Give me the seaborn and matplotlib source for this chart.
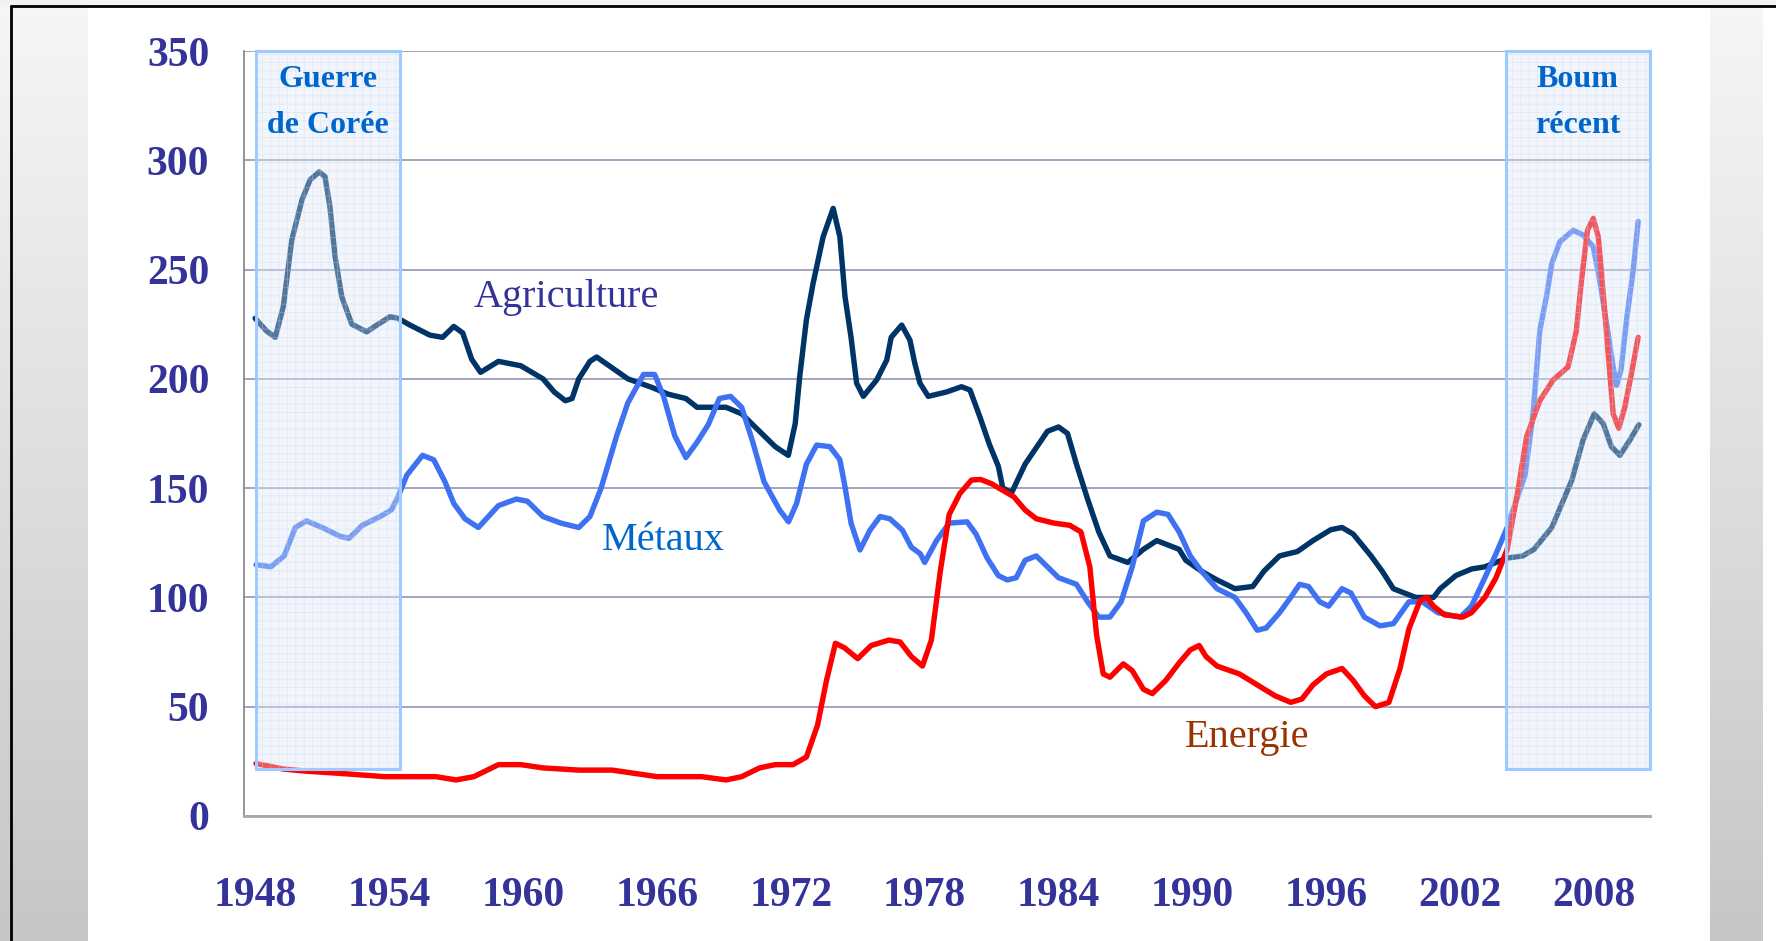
import matplotlib

matplotlib.use("Agg")

import matplotlib.pyplot as plt
import numpy as np
import pandas as pd
import seaborn as sns
from matplotlib.lines import Line2D
from matplotlib.patches import Rectangle

# --- data (index, year = decimal position on the axis) ---
agri_year = [
    1948.5, 1949.0, 1949.4, 1949.76, 1950.14, 1950.6, 1950.96, 1951.37, 1951.63, 1951.85,
    1952.08, 1952.38, 1952.83, 1953.5, 1953.95, 1954.54, 1954.9, 1955.44, 1956.33, 1956.9,
    1957.4, 1957.8, 1958.2, 1958.6, 1959.4, 1960.4, 1961.4, 1961.9, 1962.4, 1962.7,
    1963.0, 1963.5, 1963.8, 1964.5, 1965.2, 1966.3, 1967.0, 1967.8, 1968.3, 1969.6,
    1970.3, 1971.1, 1971.8, 1972.39, 1972.7, 1972.9, 1973.2, 1973.5, 1973.95, 1974.4,
    1974.7, 1974.93, 1975.2, 1975.45, 1975.75, 1976.35, 1976.8, 1977.0, 1977.47, 1977.84,
    1978.06, 1978.29, 1978.66, 1979.48, 1980.15, 1980.53, 1980.97, 1981.4, 1981.8, 1982.0,
    1982.4, 1983.0, 1984.0, 1984.5, 1984.9, 1985.3, 1985.8, 1986.3, 1986.8, 1987.6,
    1988.3, 1988.9, 1989.9, 1990.2, 1990.9, 1991.6, 1992.4, 1993.2, 1993.7, 1994.4,
    1995.2, 1995.9, 1996.7, 1997.2, 1997.7, 1998.5, 1999.0, 1999.5, 2000.5, 2001.3,
    2001.6, 2002.3, 2003.0, 2003.6, 2004.6, 2005.3, 2005.8, 2006.6, 2007.5, 2008.0,
    2008.5, 2008.9, 2009.27, 2009.65, 2010.1, 2010.5,
]
agri_val = [
    227.7, 222, 219, 233, 263.5, 282, 291, 294.7, 292.5, 278.7,
    256, 237.6, 225, 221.5, 224.6, 228.4, 227.7, 224.6, 220, 219,
    224, 221, 209, 203, 208, 206, 200, 194, 190, 191,
    200, 208, 210, 205, 200, 196, 193, 191, 187, 187,
    184, 176, 169, 165, 179.6, 201, 227, 243.7, 265, 278,
    265, 237.6, 219, 198, 192, 199.5, 208.6, 219, 224.6, 217.7,
    207, 198, 192, 194, 196.4, 194.9, 182.7, 170, 160, 150,
    148, 161, 176, 178, 175, 161, 145, 130, 119, 116,
    122, 126, 122, 117, 112, 108, 104, 105, 112, 119,
    121, 126, 131, 132, 129, 119, 112, 104, 100, 100,
    104, 110, 113, 114, 118, 119, 122, 132, 153.7, 172,
    184, 179.6, 169, 165, 172, 179,
]

metal_year = [
    1948.54, 1949.2, 1949.8, 1950.3, 1950.8, 1951.5, 1952.3, 1952.7, 1953.3, 1954.1,
    1954.6, 1954.9, 1955.3, 1956.0, 1956.5, 1957.0, 1957.4, 1957.9, 1958.5, 1959.4,
    1960.2, 1960.7, 1961.4, 1962.2, 1963.0, 1963.5, 1964.0, 1964.7, 1965.2, 1965.9,
    1966.4, 1966.8, 1967.3, 1967.8, 1968.3, 1968.8, 1969.3, 1969.8, 1970.3, 1970.8,
    1971.3, 1972.0, 1972.4, 1972.76, 1973.2, 1973.66, 1974.25, 1974.7, 1974.93, 1975.2,
    1975.6, 1976.05, 1976.5, 1976.94, 1977.5, 1977.9, 1978.3, 1978.5, 1979.03, 1979.6,
    1980.4, 1980.8, 1981.3, 1981.8, 1982.2, 1982.6, 1983.0, 1983.5, 1984.0, 1984.5,
    1985.3, 1985.8, 1986.3, 1986.8, 1987.3, 1987.8, 1988.3, 1988.9, 1989.4, 1989.9,
    1990.4, 1990.9, 1991.6, 1992.4, 1992.9, 1993.4, 1993.8, 1994.4, 1994.9, 1995.3,
    1995.7, 1996.2, 1996.6, 1997.2, 1997.6, 1998.2, 1998.9, 1999.5, 2000.2, 2000.8,
    2001.5, 2002.5, 2003.0, 2003.6, 2004.1, 2004.6, 2005.1, 2005.4, 2005.76, 2006.06,
    2006.36, 2006.6, 2006.96, 2007.56, 2008.0, 2008.46, 2008.75, 2009.05, 2009.35, 2009.5,
    2009.7, 2009.95, 2010.25, 2010.47,
]
metal_val = [
    115, 114, 119, 132, 135, 132, 128, 127, 133, 137,
    140, 146, 156, 165, 163, 153, 143, 136, 132, 142,
    145, 144, 137, 134, 132, 137, 150, 174, 189, 202,
    202, 192, 174, 164, 171, 179, 191, 192, 187, 171,
    153, 140, 134.6, 143, 161, 169.7, 169, 163, 150.6, 134,
    121.7, 130.8, 137, 136, 130.8, 123, 120, 116, 126, 134,
    134.6, 129, 118, 110, 108, 109, 117, 119, 114, 109,
    106, 98, 91, 91, 98, 114, 135, 139, 138, 130,
    119, 112, 104, 100, 93, 85, 86, 93, 100, 106,
    105, 98, 96, 104, 102, 91, 87, 88, 98, 98,
    93, 91, 96, 109, 120, 132, 147, 156, 184, 222,
    237.6, 252.8, 262.7, 268, 265.8, 260.4, 245, 225.5, 205.5, 197,
    204, 227, 250, 272,
]

energy_year = [
    1948.54, 1949.75, 1950.8, 1952.3, 1954.3, 1956.6, 1957.5, 1958.3, 1958.9, 1959.4,
    1960.4, 1961.4, 1963.0, 1964.5, 1965.5, 1966.5, 1968.5, 1969.6, 1970.3, 1971.1,
    1971.8, 1972.6, 1973.2, 1973.7, 1974.1, 1974.5, 1974.9, 1975.5, 1976.1, 1976.9,
    1977.4, 1977.9, 1978.4, 1978.8, 1979.2, 1979.6, 1980.08, 1980.6, 1981.0, 1981.5,
    1982.0, 1982.5, 1983.0, 1983.5, 1984.3, 1985.0, 1985.5, 1985.9, 1986.2, 1986.5,
    1986.8, 1987.4, 1987.8, 1988.3, 1988.7, 1989.3, 1989.9, 1990.4, 1990.8, 1991.1,
    1991.6, 1992.6, 1993.4, 1994.2, 1994.9, 1995.4, 1995.9, 1996.5, 1997.2, 1997.7,
    1998.2, 1998.7, 1999.3, 1999.8, 2000.2, 2000.7, 2001.0, 2001.3, 2001.8, 2002.6,
    2003.0, 2003.6, 2004.1, 2004.6, 2005.1, 2005.47, 2006.06, 2006.66, 2007.33, 2007.7,
    2007.93, 2008.2, 2008.46, 2008.68, 2008.83, 2009.1, 2009.35, 2009.6, 2009.87, 2010.17,
    2010.47,
]
energy_val = [
    24, 21.5, 20.5, 19.5, 18, 18, 16.5, 18, 21, 23.5,
    23.5, 22, 21, 21, 19.5, 18, 18, 16.5, 18, 22,
    23.5, 23.5, 27, 41.6, 62, 79, 77, 72, 78, 80.5,
    79.6, 73, 68.6, 80.5, 112, 138, 147.6, 153.7, 154, 152,
    149, 146, 140, 136, 134, 133, 130, 114, 83, 65,
    63.5, 69.6, 66.5, 58, 56, 62, 70, 76, 78, 73,
    68.6, 65, 60, 55, 52, 53.5, 60, 65, 67.5, 62,
    55, 50, 52, 67.5, 85.7, 98.6, 100, 96, 92, 91,
    93, 100, 109, 122, 150, 173.5, 190, 199.5, 205.5, 222,
    245, 268, 273.4, 265, 248, 214.7, 184, 177.4, 187, 202.5,
    219,
]

year_labels = list(range(1948, 2009, 6))
y_ticks = list(range(0, 351, 50))
bands = [(1948.52, 1955.0, ["Guerre", "de Corée"]), (2004.53, 2011.0, ["Boum", "récent"])]
band_bottom = 21.5

series_colors = {"Agriculture": "#003366", "Métaux": "#3F72F2", "Energie": "#FF0000"}

df = pd.concat([
    pd.DataFrame({"annee": agri_year, "indice": agri_val, "serie": "Agriculture"}),
    pd.DataFrame({"annee": metal_year, "indice": metal_val, "serie": "Métaux"}),
    pd.DataFrame({"annee": energy_year, "indice": energy_val, "serie": "Energie"}),
])

sns.set_style("white")
plt.rcParams["font.family"] = ["Liberation Serif", "DejaVu Serif"]
plt.rcParams["hatch.linewidth"] = 0.6

W, H = 1776, 941
fig = plt.figure(figsize=(W / 100, H / 100), dpi=100)
fig.patch.set_facecolor("white")

# slide background strips
grad = np.linspace(0, 1, 256).reshape(-1, 1)
for x0, w in [(0, 87), (1710, 53)]:
    bg = fig.add_axes([x0 / W, 0, w / W, 1])
    bg.imshow(grad, aspect="auto", cmap=matplotlib.colors.LinearSegmentedColormap.from_list(
        "g", ["#F6F6F6", "#C6C6C6"]), extent=[0, 1, 0, 1], origin="upper")
    bg.axis("off")
fig.add_artist(Rectangle((0, 1 - 6 / H), 1, 6 / H, transform=fig.transFigure,
                         facecolor="#F2F2F2", edgecolor="none"))
fig.add_artist(Line2D([11 / W, 11 / W], [0, 1 - 6 / H], transform=fig.transFigure,
                      color="black", lw=2))
fig.add_artist(Line2D([11 / W, 1], [1 - 6 / H, 1 - 6 / H], transform=fig.transFigure,
                      color="black", lw=2))

ax = fig.add_axes([244 / W, 1 - 816 / H, (1650 - 244) / W, (816 - 51) / H])
ax.set_facecolor("white")

sns.lineplot(data=df, x="annee", y="indice", hue="serie", palette=series_colors,
             sort=False, estimator=None, lw=3.9, legend=False, ax=ax, zorder=3,
             solid_joinstyle="round", solid_capstyle="round")

ax.set_xlim(1948, 2011)
ax.set_ylim(0, 350)
ax.set_xlabel("")
ax.set_ylabel("")

# grid and axes
ax.set_yticks(y_ticks)
ax.yaxis.grid(True, color="#9C9CBA", lw=1.3, zorder=0)
ax.set_axisbelow(True)
for s in ["top", "right"]:
    ax.spines[s].set_visible(False)
ax.spines["left"].set_color("#8C8C8C")
ax.spines["left"].set_linewidth(1.3)
ax.spines["bottom"].set_color("#A8A8A8")
ax.spines["bottom"].set_linewidth(2)

ax.set_xticks([y + 0.5 for y in year_labels])
ax.set_xticklabels([str(y) for y in year_labels])
ax.set_xticks(range(1948, 2012), minor=True)
ax.tick_params(axis="x", which="major", length=0, pad=44)
ax.tick_params(axis="x", which="minor", length=11, width=1.3, color="#A8A8A8", direction="out")
ax.tick_params(axis="y", which="major", length=10, width=1.3, color="#A8A8B8", pad=15)
for lab in ax.get_xticklabels() + ax.get_yticklabels():
    lab.set_fontsize(30)
    lab.set_fontweight("bold")
    lab.set_color("#333399")

# highlighted periods, drawn over the lines like the original
for x0, x1, words in bands:
    ax.add_patch(Rectangle((x0, band_bottom), x1 - x0, 350 - band_bottom, facecolor="#DDE7F6",
                           edgecolor="#C4D6F0", hatch="++", lw=0, alpha=0.38, zorder=4))
    ax.add_patch(Rectangle((x0, band_bottom), x1 - x0, 350 - band_bottom, fill=False,
                           edgecolor="#9DCBFF", lw=2.2, zorder=5, clip_on=False))
    xc = (x0 + x1) / 2
    ax.text(xc, 333.5, words[0], ha="center", va="baseline", fontsize=23,
            fontweight="bold", color="#0066CC", zorder=6)
    ax.text(xc, 312.3, words[1], ha="center", va="baseline", fontsize=23,
            fontweight="bold", color="#0066CC", zorder=6)

# series labels
ax.text(1962.43, 233, "Agriculture", ha="center", va="baseline", fontsize=29, color="#333399")
ax.text(1966.8, 121.7, "Métaux", ha="center", va="baseline", fontsize=29, color="#0066CC")
ax.text(1992.96, 31.7, "Energie", ha="center", va="baseline", fontsize=29, color="#993300")

fig.savefig("out.png", dpi=100)
